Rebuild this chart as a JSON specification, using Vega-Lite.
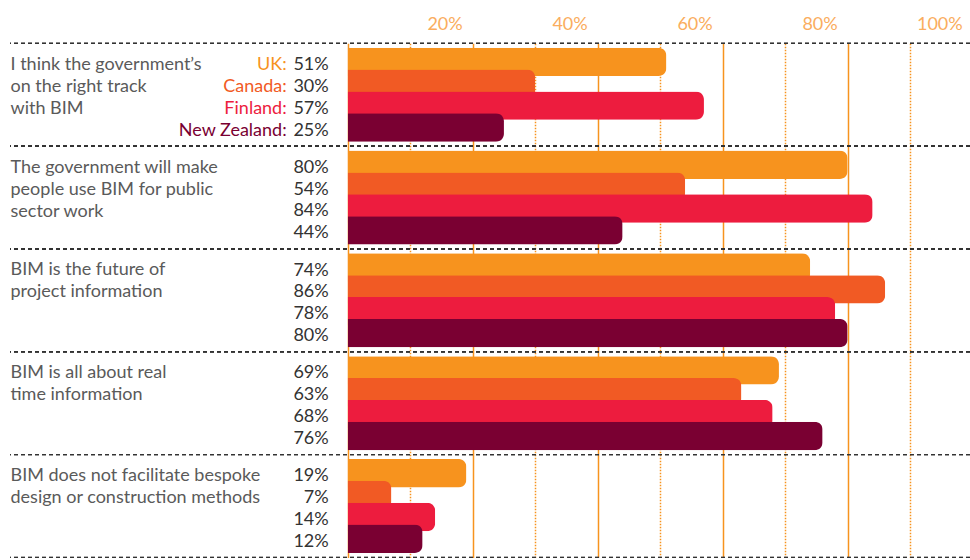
{
  "$schema": "https://vega.github.io/schema/vega-lite/v6.json",
  "width": 960,
  "height": 549,
  "autosize": {"type": "none"},
  "padding": {"left": 10, "top": 11, "right": 0, "bottom": 0},
  "background": "white",
  "config": {"view": {"stroke": null}, "font": "Lato", "text": {"font": "Lato"}},
  "data": {"values": [
    {"question": "I think the government’s on the right track with BIM", "country": "UK", "value": 0.51},
    {"question": "I think the government’s on the right track with BIM", "country": "Canada", "value": 0.30},
    {"question": "I think the government’s on the right track with BIM", "country": "Finland", "value": 0.57},
    {"question": "I think the government’s on the right track with BIM", "country": "New Zealand", "value": 0.25},
    {"question": "The government will make people use BIM for public sector work", "country": "UK", "value": 0.80},
    {"question": "The government will make people use BIM for public sector work", "country": "Canada", "value": 0.54},
    {"question": "The government will make people use BIM for public sector work", "country": "Finland", "value": 0.84},
    {"question": "The government will make people use BIM for public sector work", "country": "New Zealand", "value": 0.44},
    {"question": "BIM is the future of project information", "country": "UK", "value": 0.74},
    {"question": "BIM is the future of project information", "country": "Canada", "value": 0.86},
    {"question": "BIM is the future of project information", "country": "Finland", "value": 0.78},
    {"question": "BIM is the future of project information", "country": "New Zealand", "value": 0.80},
    {"question": "BIM is all about real time information", "country": "UK", "value": 0.69},
    {"question": "BIM is all about real time information", "country": "Canada", "value": 0.63},
    {"question": "BIM is all about real time information", "country": "Finland", "value": 0.68},
    {"question": "BIM is all about real time information", "country": "New Zealand", "value": 0.76},
    {"question": "BIM does not facilitate bespoke design or construction methods", "country": "UK", "value": 0.19},
    {"question": "BIM does not facilitate bespoke design or construction methods", "country": "Canada", "value": 0.07},
    {"question": "BIM does not facilitate bespoke design or construction methods", "country": "Finland", "value": 0.14},
    {"question": "BIM does not facilitate bespoke design or construction methods", "country": "New Zealand", "value": 0.12}
  ]},
  "layer": [
    {
      "mark": {"type": "bar", "height": 28.4, "cornerRadiusEnd": 8},
      "encoding": {
        "y": {
          "field": "question",
          "type": "nominal",
          "scale": {
            "domain": [
              "I think the government’s on the right track with BIM",
              "The government will make people use BIM for public sector work",
              "BIM is the future of project information",
              "BIM is all about real time information",
              "BIM does not facilitate bespoke design or construction methods"
            ],
            "range": [32.3, 546.4],
            "paddingInner": 0,
            "paddingOuter": 0
          },
          "axis": {
            "title": null,
            "orient": "left",
            "domain": false,
            "ticks": false,
            "tickSize": 0,
            "labelPadding": 0,
            "labelAlign": "left",
            "labelBaseline": "top",
            "labelOffset": -39,
            "labelLineHeight": 22,
            "labelFontSize": 18,
            "labelFont": "Lato",
            "labelColor": "#5a5a5a",
            "labelLimit": 500,
            "grid": false,
            "labelExpr": "datum.value == 'I think the government’s on the right track with BIM' ? ['I think the government’s', 'on the right track', 'with BIM'] : datum.value == 'The government will make people use BIM for public sector work' ? ['The government will make', 'people use BIM for public', 'sector work'] : datum.value == 'BIM is the future of project information' ? ['BIM is the future of', 'project information'] : datum.value == 'BIM is all about real time information' ? ['BIM is all about real', 'time information'] : ['BIM does not facilitate bespoke', 'design or construction methods']"
          }
        },
        "yOffset": {
          "field": "country",
          "type": "nominal",
          "scale": {"domain": ["UK", "Canada", "Finland", "New Zealand"], "paddingInner": 0, "paddingOuter": 0.35}
        },
        "x": {
          "field": "value",
          "type": "quantitative",
          "scale": {"domain": [0, 1], "range": [337.7, 962.7]},
          "axis": {
            "title": null,
            "orient": "top",
            "values": [0, 0.2, 0.4, 0.6, 0.8, 1],
            "format": ".0%",
            "labelExpr": "datum.value == 0 ? '' : datum.label",
            "domain": false,
            "ticks": false,
            "tickSize": 0,
            "labelPadding": -18.3,
            "labelBaseline": "alphabetic",
            "labelAlign": "right",
            "labelOffset": -10.5,
            "labelFontSize": 18,
            "labelFont": "Lato",
            "labelColor": "#FAAD5E",
            "grid": true,
            "gridColor": "#F7931E",
            "gridWidth": 1.5
          }
        },
        "color": {
          "field": "country",
          "type": "nominal",
          "scale": {"domain": ["UK", "Canada", "Finland", "New Zealand"], "range": ["#F7931E", "#F15A24", "#ED1C3E", "#7A0032"]},
          "legend": null
        }
      }
    },
    {
      "mark": {"type": "rule", "color": "#333333", "strokeDash": [4, 3], "strokeWidth": 1},
      "encoding": {
        "y": {"field": "question", "type": "nominal", "bandPosition": 0}
      }
    },
    {
      "mark": {"type": "rule", "color": "#333333", "strokeDash": [4, 3], "strokeWidth": 1},
      "encoding": {
        "y": {"field": "question", "type": "nominal", "bandPosition": 1}
      }
    },
    {
      "mark": {"type": "text", "align": "right", "baseline": "middle", "dx": -19, "dy": 3, "fontSize": 18, "color": "#333333"},
      "encoding": {
        "y": {"field": "question", "type": "nominal"},
        "yOffset": {"field": "country", "type": "nominal"},
        "x": {
          "datum": 0,
          "type": "quantitative",
          "axis": {
            "title": null,
            "orient": "top",
            "values": [0.1, 0.3, 0.5, 0.7, 0.9],
            "labels": false,
            "domain": false,
            "ticks": false,
            "grid": true,
            "gridColor": "#F7931E",
            "gridDash": [1.5, 1.5],
            "gridWidth": 1.5
          }
        },
        "text": {"field": "value", "type": "quantitative", "format": ".0%"}
      }
    },
    {
      "data": {"values": [
        {"question": "I think the government’s on the right track with BIM", "country": "UK", "label": "UK:"},
        {"question": "I think the government’s on the right track with BIM", "country": "Canada", "label": "Canada:"},
        {"question": "I think the government’s on the right track with BIM", "country": "Finland", "label": "Finland:"},
        {"question": "I think the government’s on the right track with BIM", "country": "New Zealand", "label": "New Zealand:"}
      ]},
      "mark": {"type": "text", "align": "right", "baseline": "middle", "dx": -61, "dy": 3, "fontSize": 18},
      "encoding": {
        "y": {"field": "question", "type": "nominal"},
        "yOffset": {"field": "country", "type": "nominal"},
        "x": {"datum": 0, "type": "quantitative", "axis": null},
        "text": {"field": "label", "type": "nominal"},
        "color": {"field": "country", "type": "nominal", "legend": null}
      }
    }
  ],
  "resolve": {"axis": {"x": "independent"}}
}
